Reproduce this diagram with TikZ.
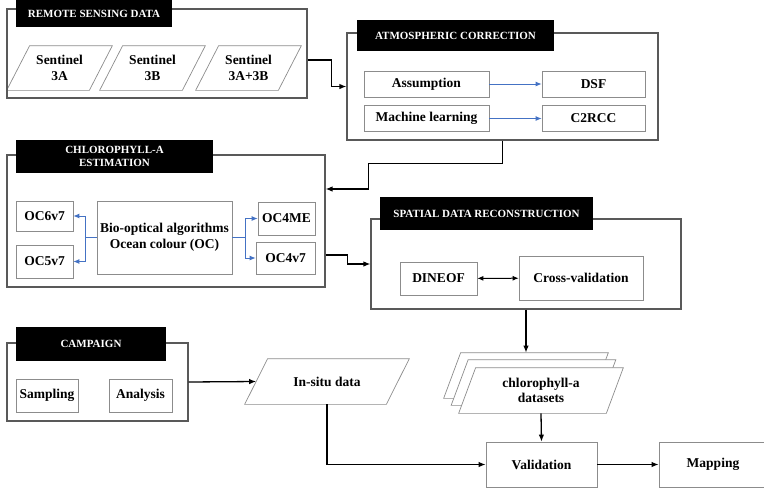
\documentclass[tikz,border=0pt]{standalone}
\usepackage{fontspec}
\setmainfont{Liberation Serif}
\usepackage{tikz}
\usetikzlibrary{arrows.meta,backgrounds}
\definecolor{ocblue}{RGB}{68,114,196}
% slanted outline behind a node: node name, slant
\newcommand{\pgram}[2]{\draw[pline] ([xshift=#2pt]#1.north west) -- (#1.north east) -- ([xshift=-#2pt]#1.south east) -- (#1.south west) -- cycle;}

\begin{document}
\begin{tikzpicture}[x=1pt, y=-1pt,
  grp/.style = {draw=black!65, line width=1.1pt, rectangle, inner sep=0pt},
  hdr/.style = {fill=black, text=white, font=\fontsize{11}{12.7}\selectfont\bfseries, align=center, inner sep=0pt},
  main/.style = {draw=black!45, line width=0.7pt, fill=white, font=\fontsize{13.5}{15.7}\selectfont\bfseries, align=center, inner sep=0pt},
  para/.style = {main, draw=none, fill=none},
  pline/.style = {draw=black!45, line width=0.7pt, fill=white},
  arr/.style = {-{Latex[length=7pt,width=5.5pt]}, line width=1.3pt},
  blu/.style = {-{Latex[length=6pt,width=5pt]}, draw=ocblue, line width=0.9pt}]
\useasboundingbox (0,0) rectangle (764,491);

% remote sensing data
\node[grp, minimum width=300pt, minimum height=89pt] (rsd) at (157,53.5) {};
\node[hdr, minimum width=156pt, minimum height=27pt] (rsdh) at (94,13.5) {REMOTE SENSING DATA};
\node[para, minimum width=105pt, minimum height=44pt] (s3a) at (59.5,68) {Sentinel\\3A};
\node[para, minimum width=105pt, minimum height=44pt] (s3b) at (152.5,68) {Sentinel\\3B};
\node[para, minimum width=105pt, minimum height=44pt] (s3ab) at (248.5,68) {Sentinel\\3A+3B};

% atmospheric correction
\node[grp, minimum width=311pt, minimum height=107pt] (atm) at (502.5,86.5) {};
\node[hdr, minimum width=197pt, minimum height=31pt] (atmh) at (455.5,35.5) {ATMOSPHERIC CORRECTION};
\node[main, minimum width=125pt, minimum height=26pt] (asm) at (426.5,84) {Assumption};
\node[main, minimum width=103pt, minimum height=26pt] (dsf) at (593.5,84) {DSF};
\node[main, minimum width=125pt, minimum height=26pt] (mlr) at (426.5,118.5) {Machine learning};
\node[main, minimum width=103pt, minimum height=26pt] (c2r) at (593.5,118.5) {C2RCC};
\draw[blu] (asm) -- (dsf);
\draw[blu] (mlr) -- (c2r);

% chlorophyll-a estimation
\node[grp, minimum width=318pt, minimum height=132pt] (chl) at (166,221) {};
\node[hdr, minimum width=197pt, minimum height=33pt] (chlh) at (114.5,156.5) {CHLOROPHYLL-A\\ESTIMATION};
\node[main, minimum width=57pt, minimum height=30pt] (oc6) at (44.5,216) {OC6v7};
\node[main, minimum width=57pt, minimum height=33pt] (oc5) at (44.5,261.5) {OC5v7};
\node[main, minimum width=135pt, minimum height=73pt] (bio) at (164.5,237.5) {Bio-optical algorithms\\Ocean colour (OC)};
\node[main, minimum width=57pt, minimum height=33pt] (oc4me) at (286.5,218.5) {OC4ME};
\node[main, minimum width=59pt, minimum height=32pt] (oc4v7) at (285.5,258) {OC4v7};
\draw[blu] (bio.west) -- ++(-11,0) |- (oc6.east);
\draw[blu] (bio.west) -- ++(-11,0) |- (oc5.east);
\draw[blu] (bio.east) -- ++(13,0) |- (oc4me.west);
\draw[blu] (bio.east) -- ++(13,0) |- (oc4v7.west);

% spatial data reconstruction
\node[grp, minimum width=310pt, minimum height=90pt] (sdr) at (526,264) {};
\node[hdr, minimum width=213pt, minimum height=33pt] (sdrh) at (486.5,213.5) {SPATIAL DATA RECONSTRUCTION};
\node[main, minimum width=77pt, minimum height=33pt] (dineof) at (438.5,278.5) {DINEOF};
\node[main, minimum width=124pt, minimum height=44pt] (xval) at (581,278) {Cross-validation};
\draw[{Latex[length=6pt,width=5pt]}-{Latex[length=6pt,width=5pt]}, line width=1pt] (dineof) -- (xval);

% campaign
\node[grp, minimum width=181pt, minimum height=78pt] (cmp) at (97.5,382) {};
\node[hdr, minimum width=150pt, minimum height=34pt] (cmph) at (91,344) {CAMPAIGN};
\node[main, minimum width=62pt, minimum height=33pt] (smp) at (47,395.5) {Sampling};
\node[main, minimum width=63pt, minimum height=33pt] (ana) at (140.5,395.5) {Analysis};

% data and results
\node[para, minimum width=164pt, minimum height=45pt] (insitu) at (327,381.5) {In-situ data};
\node[para, minimum width=164pt, minimum height=45pt] (dsb) at (526,375.5) {};
\node[para, minimum width=164pt, minimum height=45pt] (dsm) at (533.5,382.5) {};
\node[para, minimum width=164pt, minimum height=45pt] (dsf2) at (541,390.5) {chlorophyll-a\\datasets};
\node[main, minimum width=111pt, minimum height=45pt] (val) at (541.5,464.5) {Validation};
\node[main, minimum width=108pt, minimum height=45pt] (map) at (713,464.5) {Mapping};

\begin{scope}[on background layer]
\pgram{s3a}{23}
\pgram{s3b}{23}
\pgram{s3ab}{23}
\pgram{insitu}{23}
\pgram{dsb}{17}
\pgram{dsm}{17}
\pgram{dsf2}{17}
\end{scope}

% flow
\draw[arr] ([yshift=-6.5pt]rsd.east) -- ++(24,0) |- (atm.west);
\draw[arr] (atm.south) |- ++(-134,23) |- ([yshift=32pt]chl.east);
\draw[arr] ([yshift=-34pt]chl.east) -- ++(22,0) |- (sdr.west);
\draw[arr] (sdr.south) -- (dsb.north);
\draw[arr] (cmp.east) -- ([xshift=11.5pt]insitu.west);
\draw[arr] (dsf2.south) -- (val.north);
\draw[arr] (insitu.south) |- (val.west);
\draw[arr] (val) -- (map);
\end{tikzpicture}
\end{document}
